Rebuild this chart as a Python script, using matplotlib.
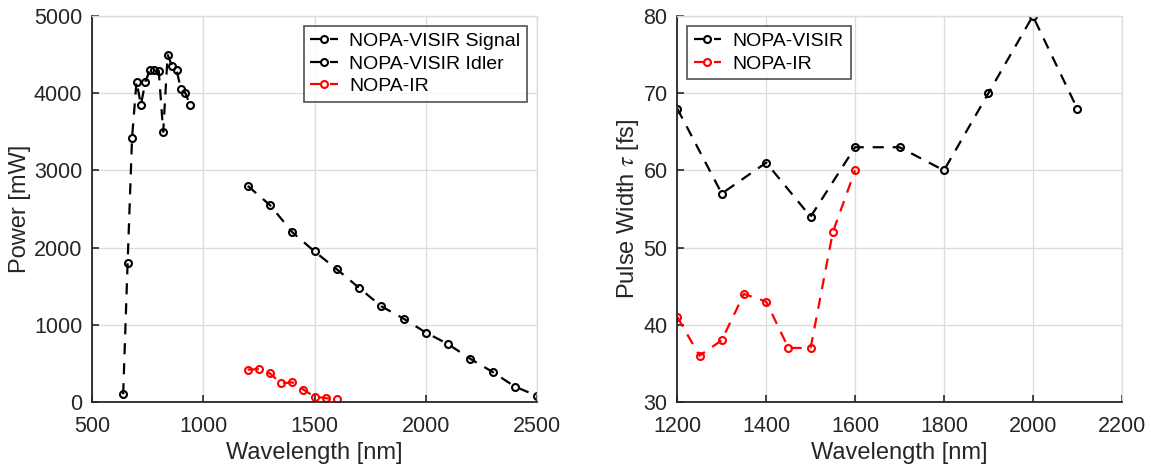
import matplotlib
matplotlib.use("Agg")
import matplotlib.pyplot as plt

plt.rcParams['font.family'] = ['Liberation Sans', 'DejaVu Sans']
plt.rcParams['mathtext.fontset'] = 'stix'

# Left panel: power
signal_wl = [640, 660, 680, 700, 720, 740, 760, 780, 800, 820, 840, 860, 880, 900, 920, 940]
signal_pw = [100, 1800, 3420, 4150, 3850, 4150, 4300, 4300, 4290, 3500, 4500, 4350, 4300, 4050, 4000, 3850]
idler_wl = [1200, 1300, 1400, 1500, 1600, 1700, 1800, 1900, 2000, 2100, 2200, 2300, 2400, 2500]
idler_pw = [2800, 2550, 2200, 1950, 1720, 1480, 1240, 1080, 900, 750, 560, 390, 200, 80]
ir_wl = [1200, 1250, 1300, 1350, 1400, 1450, 1500, 1550, 1600]
ir_pw = [420, 425, 370, 240, 255, 160, 70, 50, 35]

# Right panel: pulse width
visir_wl = [1200, 1300, 1400, 1500, 1600, 1700, 1800, 1900, 2000, 2100]
visir_tau = [68, 57, 61, 54, 63, 63, 60, 70, 80, 68]
irp_wl = [1200, 1250, 1300, 1350, 1400, 1450, 1500, 1550, 1600]
irp_tau = [41, 36, 38, 44, 43, 37, 37, 52, 60]

fig = plt.figure(figsize=(11.51, 4.68), dpi=100)
ax1 = fig.add_axes([92/1151, 1-402/468, (537-92)/1151, (402-16)/468])
ax2 = fig.add_axes([677.3/1151, 1-402/468, (1121.7-677.3)/1151, (402-16)/468])

tc = '#262626'
style = dict(linestyle='--', marker='o', markersize=5, markerfacecolor='none',
             markeredgewidth=1.5, linewidth=1.6, dashes=(5, 4))

ax1.plot(signal_wl, signal_pw, color='black', label='NOPA-VISIR Signal', **style)
ax1.plot(idler_wl, idler_pw, color='black', label='NOPA-VISIR Idler', **style)
ax1.plot(ir_wl, ir_pw, color='red', label='NOPA-IR', **style)
ax1.set_xlim(500, 2500)
ax1.set_ylim(0, 5000)
ax1.set_xticks([500, 1000, 1500, 2000, 2500])
ax1.set_yticks([0, 1000, 2000, 3000, 4000, 5000])
ax1.set_xlabel('Wavelength [nm]', fontsize=17, color=tc, labelpad=4)
ax1.set_ylabel('Power [mW]', fontsize=17, color=tc, labelpad=2)

ax2.plot(visir_wl, visir_tau, color='black', label='NOPA-VISIR', **style)
ax2.plot(irp_wl, irp_tau, color='red', label='NOPA-IR', **style)
ax2.set_xlim(1200, 2200)
ax2.set_ylim(30, 80)
ax2.set_xticks([1200, 1400, 1600, 1800, 2000, 2200])
ax2.set_yticks([30, 40, 50, 60, 70, 80])
ax2.set_xlabel('Wavelength [nm]', fontsize=17, color=tc, labelpad=4)
ax2.set_ylabel(r'Pulse Width $\tau$ [fs]', fontsize=17, color=tc, labelpad=2)

for ax in (ax1, ax2):
    ax.grid(True, color='#dcdcdc', linewidth=1.0)
    ax.set_axisbelow(True)
    ax.tick_params(direction='in', labelsize=15.5, colors=tc, length=5, width=1.2,
                   top=False, right=False)
    ax.tick_params(axis='y', pad=7)
    ax.tick_params(axis='x', pad=10)
    for s in ('left', 'bottom'):
        ax.spines[s].set_color(tc)
        ax.spines[s].set_linewidth(1.3)
    for s in ('top', 'right'):
        ax.spines[s].set_color('#dcdcdc')
        ax.spines[s].set_linewidth(1.0)

leg_kw = dict(fontsize=14, frameon=True, fancybox=False, edgecolor=tc,
              handlelength=1.4, handletextpad=0.6, borderpad=0.35, labelspacing=0.25,
              borderaxespad=0.5)
l1 = ax1.legend(loc='upper right', **leg_kw)
l2 = ax2.legend(loc='upper left', **leg_kw)
for l in (l1, l2):
    l.get_frame().set_linewidth(1.2)
    for t in l.get_texts():
        t.set_color('black')

fig.savefig('out.png', dpi=100)
